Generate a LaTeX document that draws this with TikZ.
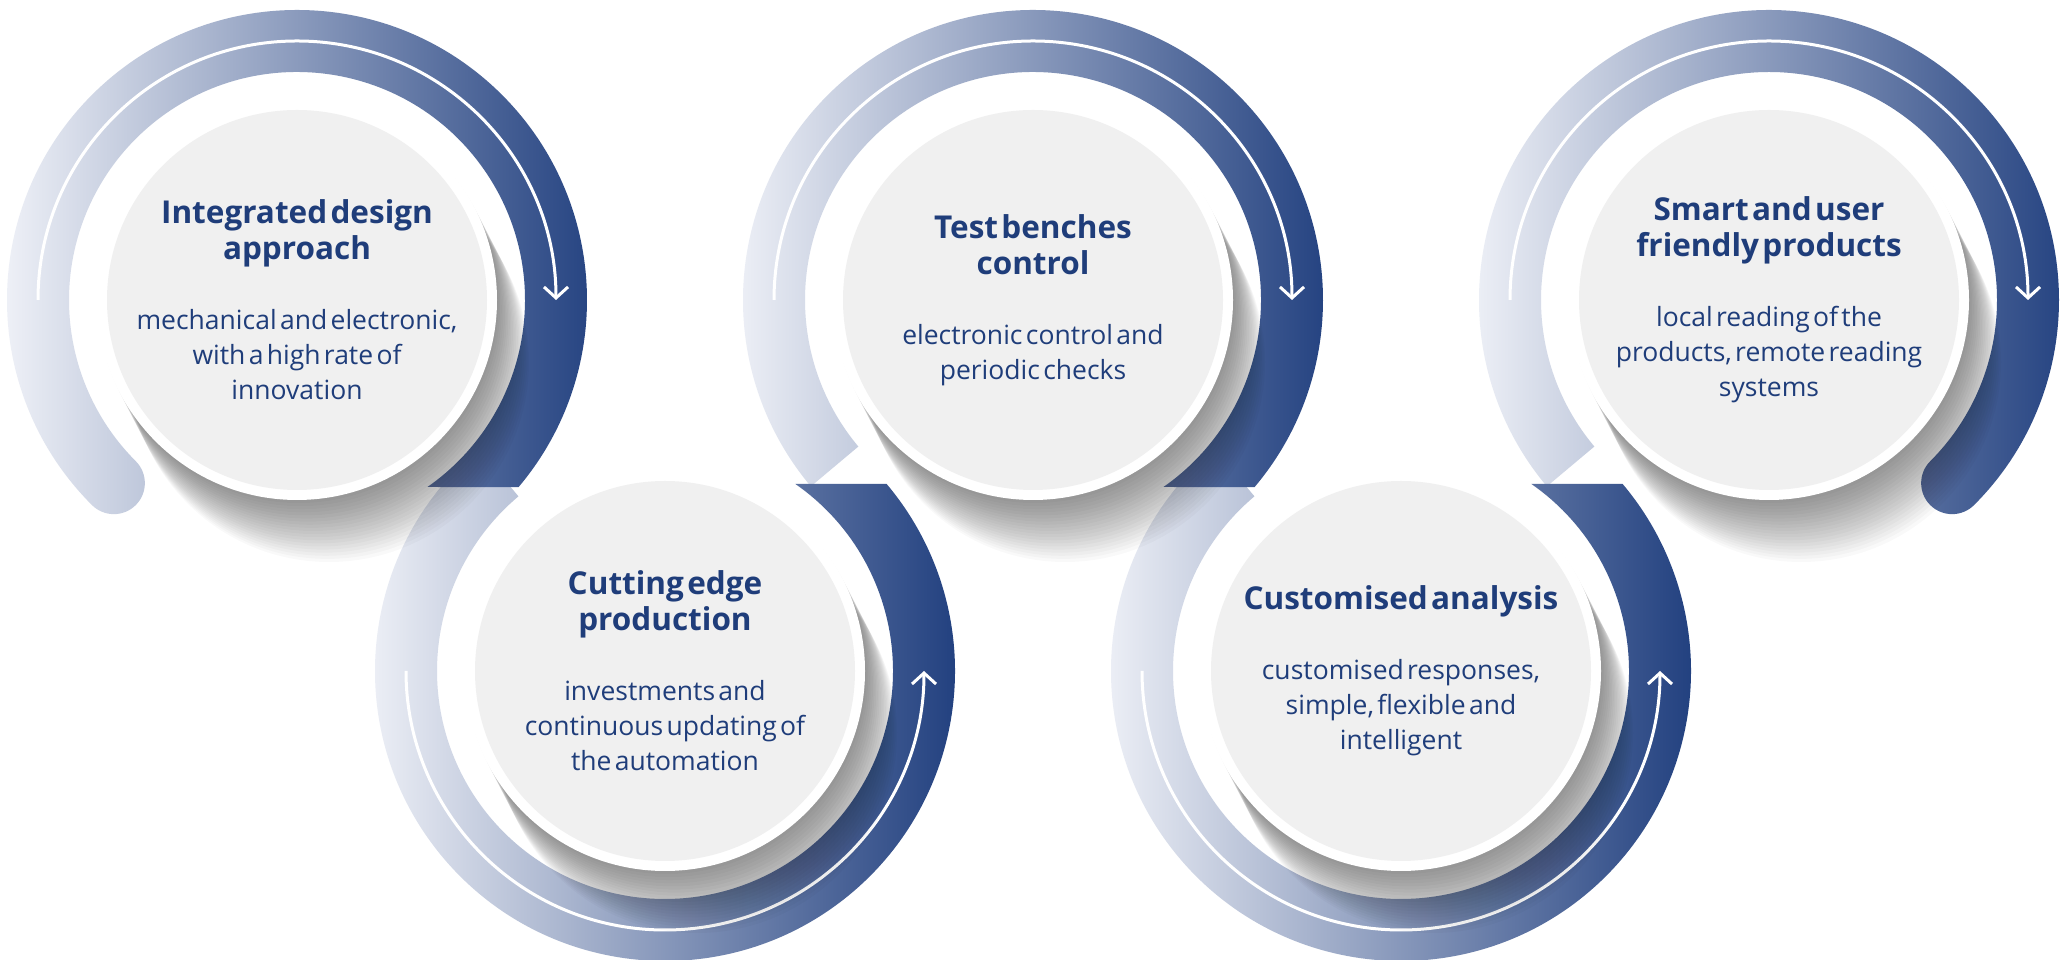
\documentclass[tikz,border=0pt]{standalone}
\usepackage{fontspec}
\setmainfont{Open Sans}
\usetikzlibrary{arrows.meta, calc}

\definecolor{bandlight}{RGB}{247,248,252}
\definecolor{banddark}{RGB}{30,61,125}
\definecolor{navytext}{RGB}{31,61,122}
\definecolor{discface}{RGB}{240,240,240}

\newcommand{\ttlfont}{\fontsize{31.5}{36}\selectfont\bfseries}
\newcommand{\txtfont}{\fontsize{26.5}{35}\selectfont}
\newcommand{\cardtext}[2]{{\ttlfont #1\par}\vskip35pt{\txtfont #2\par}}

\tikzset{
    band/.style={left color=bandlight, right color=banddark},
    flow/.style={draw=white, line width=3pt, -{Straight Barb[length=11pt, width=24pt]}},
    shade step/.style={fill=black, opacity=0.022},
    disc/.style={circle, fill=white, minimum size=400pt, inner sep=0pt},
    face/.style={circle, fill=discface, minimum size=380pt, inner sep=0pt},
    card/.style={text width=380pt, align=center, text=navytext, inner sep=0pt},
}

\begin{document}
\begin{tikzpicture}[x=1pt, y=1pt]
    \useasboundingbox (0,0) rectangle (2065,960);
    \fill[white] (0,0) rectangle (2065,960);

    % centres of the five steps
    \coordinate (c1) at (297,660);
    \coordinate (c2) at (665,289);
    \coordinate (c3) at (1033,660);
    \coordinate (c4) at (1401,289);
    \coordinate (c5) at (1769,660);

    % bands, the last one first so each dark end lies on the next light start
    \shade[band] ($(c5)+(220:290)$) arc[start angle=220, end angle=-45, radius=290]
      arc[start angle=-45, end angle=-225, radius=31]
      arc[start angle=-45, end angle=220, radius=228] -- cycle;
    \shade[band] ($(c4)+(130:290)$) arc[start angle=130, end angle=400.2, radius=290]
      -- ($(c4)+(415.1:228)$) arc[start angle=415.1, end angle=130, radius=228] -- cycle;
    \shade[band] ($(c3)+(220:290)$) arc[start angle=220, end angle=-40.2, radius=290]
      -- ($(c3)+(-55.1:228)$) arc[start angle=-55.1, end angle=220, radius=228] -- cycle;
    \shade[band] ($(c2)+(130:290)$) arc[start angle=130, end angle=400.2, radius=290]
      -- ($(c2)+(415.1:228)$) arc[start angle=415.1, end angle=130, radius=228] -- cycle;
    \shade[band] ($(c1)+(225:228)$) arc[start angle=45, end angle=-135, radius=31]
      arc[start angle=225, end angle=-40.2, radius=290]
      -- ($(c1)+(-55.1:228)$) arc[start angle=-55.1, end angle=225, radius=228] -- cycle;

    % white arrows inside the bands
    \foreach \i in {1,3,5}
      \draw[flow] ($(c\i)+(180:259)$) arc[start angle=180, end angle=0, radius=259];
    \foreach \i in {2,4}
      \draw[flow] ($(c\i)+(180:259)$) arc[start angle=180, end angle=360, radius=259];

    % discs with a soft shadow towards the lower right
    \foreach \i in {1,...,5} {
      \foreach \k in {1,...,20}
        \fill[shade step] ($(c\i)+(1.6*\k,-3.1*\k)$) circle[radius=200];
      \node[disc] (d\i) at (c\i) {};
      \node[face] (f\i) at (c\i) {};
    }

    \node[card] (t1) at (c1) {\cardtext{Integrated design\\approach}{mechanical and electronic,\\with a high rate of\\innovation}};
    \node[card] (t2) at (c2) {\cardtext{Cutting edge\\production}{investments and\\continuous updating of\\the automation}};
    \node[card] (t3) at (c3) {\cardtext{Test benches\\control}{electronic control and\\periodic checks}};
    \node[card] (t4) at (c4) {\cardtext{Customised analysis}{customised responses,\\simple, flexible and\\intelligent}};
    \node[card] (t5) at (c5) {\cardtext{Smart and user\\friendly products}{local reading of the\\products, remote reading\\systems}};
\end{tikzpicture}
\end{document}
